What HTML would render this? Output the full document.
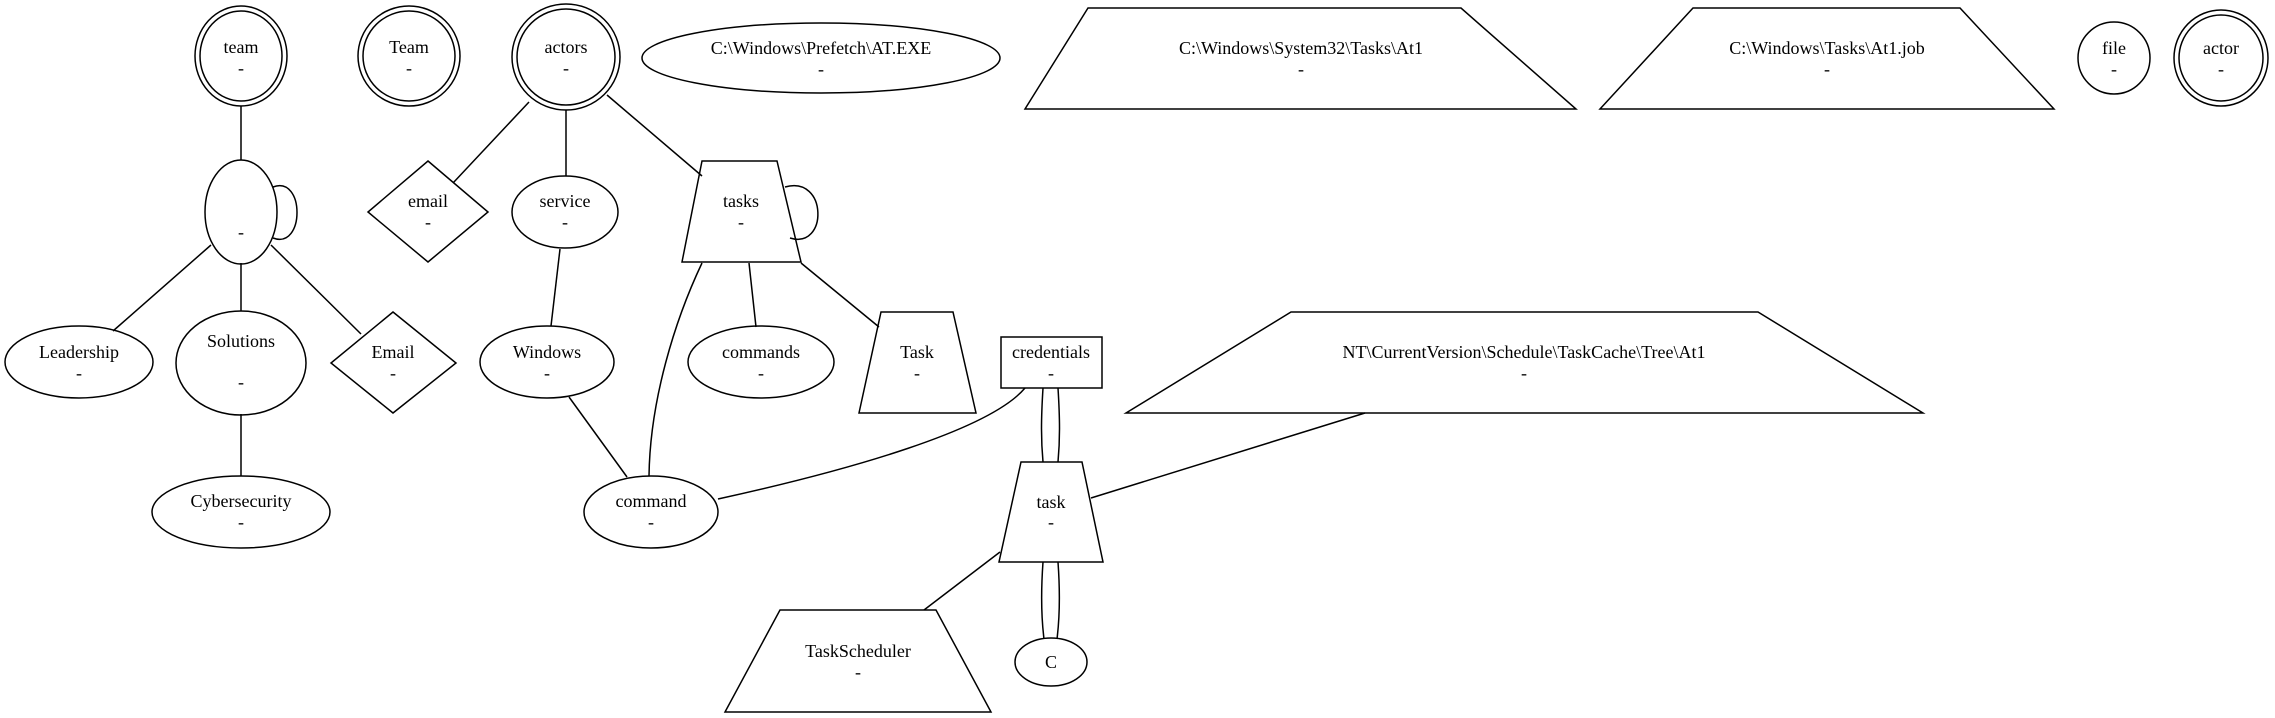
<!DOCTYPE html>
<html><head><meta charset="utf-8"><style>
html,body{margin:0;padding:0;background:#fff;}
svg{display:block;}
svg text{font-family:"Liberation Serif","DejaVu Serif",serif;font-size:18px;fill:#000;text-anchor:middle;dominant-baseline:central;}
.s{fill:none;stroke:#000;stroke-width:1.5;}
</style></head><body>
<svg width="2275" height="718" viewBox="0 0 2275 718" xmlns="http://www.w3.org/2000/svg">
<g class="s">
<path d="M241,106 L241,160"/>
<path d="M211,245 L113,331"/>
<path d="M241,263 L241,311"/>
<path d="M271,245 L361,334"/>
<path d="M241,414 L241,476"/>
<path d="M273,187 C305,175 305,250 273,238"/>
<path d="M529,102 L453,183"/>
<path d="M566,110 L566,176"/>
<path d="M607,95 L702,176"/>
<path d="M560,249 L551,326"/>
<path d="M569,397 L627,477"/>
<path d="M702,263 C675,320 650,400 649,476"/>
<path d="M749,263 L756,327"/>
<path d="M801,263 L879,327"/>
<path d="M785,187 C828,175 828,250 790,238"/>
<path d="M1025,388 C990,430 850,470 718,499"/>
<path d="M1043,388 C1041,420 1041,440 1043,462"/>
<path d="M1058,388 C1060,420 1060,440 1058,462"/>
<path d="M1043,562 C1041,590 1041,615 1044,639"/>
<path d="M1058,562 C1060,590 1060,615 1057,639"/>
<path d="M1000,552 L924,610"/>
<path d="M1091,498 L1365,413"/>
<ellipse cx="241" cy="56" rx="46" ry="50"/><ellipse cx="241" cy="56" rx="41" ry="45"/>
<ellipse cx="409" cy="56" rx="51" ry="50"/><ellipse cx="409" cy="56" rx="46" ry="45"/>
<ellipse cx="566" cy="57" rx="54" ry="53"/><ellipse cx="566" cy="57" rx="49" ry="48"/>
<ellipse cx="821" cy="58" rx="179" ry="35"/>
<polygon points="1088,8 1461,8 1576,109 1025,109"/>
<polygon points="1693,8 1960,8 2054,109 1600,109"/>
<ellipse cx="2114" cy="58" rx="36" ry="36"/>
<ellipse cx="2221" cy="58" rx="47" ry="48"/><ellipse cx="2221" cy="58" rx="42" ry="43"/>
<ellipse cx="241" cy="212" rx="36" ry="52"/>
<polygon points="428,161 488,212 428,262 368,212"/>
<ellipse cx="565" cy="212" rx="53" ry="36"/>
<polygon points="702,161 777,161 801,262 682,262"/>
<ellipse cx="79" cy="362" rx="74" ry="36"/>
<ellipse cx="241" cy="363" rx="65" ry="52"/>
<polygon points="393,312 456,363 393,413 331,363"/>
<ellipse cx="547" cy="362" rx="67" ry="36"/>
<ellipse cx="761" cy="362" rx="73" ry="36"/>
<polygon points="881,312 953,312 976,413 859,413"/>
<rect x="1001" y="337" width="101" height="51"/>
<polygon points="1291,312 1758,312 1923,413 1126,413"/>
<ellipse cx="651" cy="512" rx="67" ry="36"/>
<ellipse cx="241" cy="512" rx="89" ry="36"/>
<polygon points="1021,462 1082,462 1103,562 999,562"/>
<polygon points="780,610 936,610 991,712 725,712"/>
<ellipse cx="1051" cy="662" rx="36" ry="24"/>
</g>
<g font-family="Liberation Serif, DejaVu Serif, serif" font-size="18">
<text x="241" y="47">team</text><text x="241" y="68">-</text>
<text x="409" y="47">Team</text><text x="409" y="68">-</text>
<text x="566" y="47">actors</text><text x="566" y="68">-</text>
<text x="821" y="48">C:\Windows\Prefetch\AT.EXE</text><text x="821" y="69">-</text>
<text x="1301" y="48">C:\Windows\System32\Tasks\At1</text><text x="1301" y="69">-</text>
<text x="1827" y="48">C:\Windows\Tasks\At1.job</text><text x="1827" y="69">-</text>
<text x="2114" y="48">file</text><text x="2114" y="69">-</text>
<text x="2221" y="48">actor</text><text x="2221" y="69">-</text>
<text x="241" y="232">-</text>
<text x="428" y="201">email</text><text x="428" y="222">-</text>
<text x="565" y="201">service</text><text x="565" y="222">-</text>
<text x="741" y="201">tasks</text><text x="741" y="222">-</text>
<text x="79" y="352">Leadership</text><text x="79" y="373">-</text>
<text x="241" y="341">Solutions</text><text x="241" y="382">-</text>
<text x="393" y="352">Email</text><text x="393" y="373">-</text>
<text x="547" y="352">Windows</text><text x="547" y="373">-</text>
<text x="761" y="352">commands</text><text x="761" y="373">-</text>
<text x="917" y="352">Task</text><text x="917" y="373">-</text>
<text x="1051" y="352">credentials</text><text x="1051" y="373">-</text>
<text x="1524" y="352">NT\CurrentVersion\Schedule\TaskCache\Tree\At1</text><text x="1524" y="373">-</text>
<text x="651" y="501">command</text><text x="651" y="522">-</text>
<text x="241" y="501">Cybersecurity</text><text x="241" y="522">-</text>
<text x="1051" y="502">task</text><text x="1051" y="522">-</text>
<text x="858" y="651">TaskScheduler</text><text x="858" y="672">-</text>
<text x="1051" y="662">C</text>
</g>
</svg>
</body></html>
